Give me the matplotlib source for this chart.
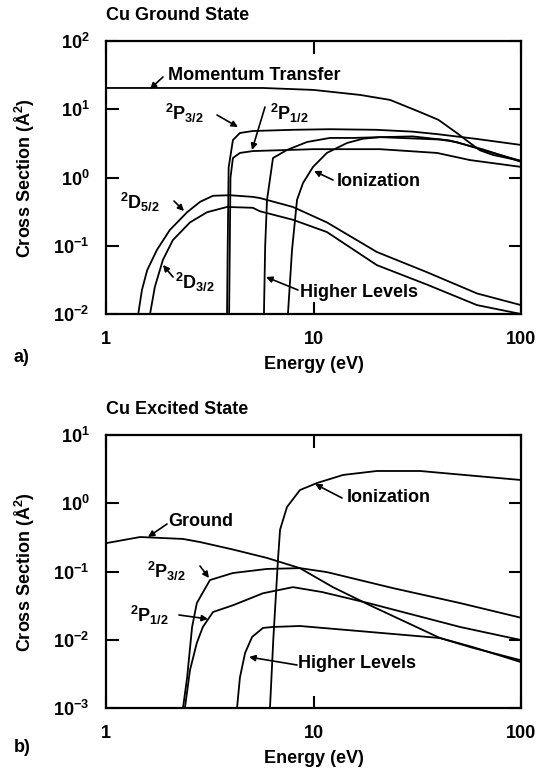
import numpy as np
import matplotlib
matplotlib.use('Agg')
import matplotlib.pyplot as plt
from matplotlib.ticker import FixedLocator, NullLocator

plt.rcParams['font.family'] = ['Liberation Sans', 'DejaVu Sans']
plt.rcParams['font.weight'] = 'bold'
plt.rcParams['mathtext.fontset'] = 'custom'
plt.rcParams['mathtext.rm'] = 'Liberation Sans:bold'
plt.rcParams['mathtext.it'] = 'Liberation Sans:bold'
plt.rcParams['mathtext.bf'] = 'Liberation Sans:bold'

# ---- a) Cu ground state ----
mt_E = [1, 2, 4, 5.7, 10, 16.8, 23.4, 32.6, 40, 49, 56.8, 63.5, 73.3, 100]
mt_s = [20.5, 20.5, 20.5, 20.5, 19.2, 16.2, 13.7, 9.1, 7.0, 4.5, 3.2, 2.5, 2.14, 1.75]

p32_E = [3.83, 3.86, 3.9, 4.09, 4.42, 5.1, 8, 12, 20, 30, 40, 60, 100]
p32_s = [0.01, 0.1, 1.4, 3.54, 4.49, 4.8, 5.0, 5.1, 5.0, 4.7, 4.3, 3.7, 3.0]

p12_E = [3.92, 3.95, 3.98, 4.09, 4.42, 5.1, 10, 20.9, 39.4, 56.8, 100]
p12_s = [0.01, 0.1, 1.0, 1.93, 2.29, 2.44, 2.6, 2.6, 2.29, 1.8, 1.43]

hl_E = [5.77, 5.85, 5.97, 6.38, 7.45, 9.3, 12, 15.5, 20.9, 40.7, 49, 63.5, 100]
hl_s = [0.01, 0.1, 0.47, 1.93, 2.53, 3.31, 3.8, 3.8, 3.9, 3.6, 3.3, 2.6, 1.75]

ion_E = [7.53, 7.88, 8.33, 8.9, 9.95, 11.6, 14.5, 17.3, 20.9, 30, 45, 65, 100]
ion_s = [0.01, 0.087, 0.47, 0.83, 1.43, 2.29, 3.2, 3.7, 3.9, 4.0, 3.5, 2.6, 1.7]

d52_E = [1.43, 1.49, 1.58, 1.76, 2.03, 2.46, 2.84, 3.28, 3.96, 5.1, 5.52, 7.96, 11.6, 20.2, 35.2, 61.4, 100]
d52_s = [0.01, 0.0225, 0.044, 0.087, 0.17, 0.31, 0.44, 0.54, 0.55, 0.52, 0.50, 0.37, 0.22, 0.081, 0.041, 0.020, 0.0135]

d32_E = [1.63, 1.72, 1.88, 2.10, 2.54, 3.07, 3.83, 5.1, 5.52, 7.96, 11.6, 20.2, 35.2, 61.4, 100]
d32_s = [0.01, 0.025, 0.062, 0.121, 0.22, 0.31, 0.37, 0.36, 0.32, 0.24, 0.159, 0.052, 0.027, 0.0135, 0.0100]

# ---- b) Cu excited state ----
gr_E = [1.0, 1.46, 2.35, 2.84, 4.09, 5.97, 8.6, 12.4, 18.7, 40.7, 58.7, 100]
gr_s = [0.26, 0.32, 0.30, 0.27, 0.21, 0.158, 0.112, 0.059, 0.032, 0.0106, 0.0076, 0.005]

ionb_E = [6.17, 6.4, 6.74, 6.9, 7.45, 8.6, 10.4, 13.9, 20.2, 32.6, 61.4, 100]
ionb_s = [0.001, 0.01, 0.147, 0.41, 0.88, 1.56, 1.98, 2.6, 2.97, 2.97, 2.5, 2.19]

p32b_E = [2.35, 2.46, 2.6, 2.74, 3.17, 4.09, 5.97, 8.6, 11.6, 24.2, 50.8, 100]
p32b_s = [0.001, 0.0028, 0.0154, 0.0345, 0.075, 0.095, 0.109, 0.112, 0.098, 0.057, 0.0345, 0.021]

p12b_E = [2.4, 2.54, 2.74, 2.93, 3.28, 4.09, 5.71, 7.96, 11, 18.7, 50.8, 100]
p12b_s = [0.001, 0.0036, 0.009, 0.0154, 0.0255, 0.032, 0.048, 0.059, 0.05, 0.034, 0.0154, 0.0099]

hlb_E = [4.28, 4.42, 4.68, 5.06, 5.71, 6.38, 8.6, 18.7, 40.7, 58.7, 100]
hlb_s = [0.001, 0.0028, 0.0064, 0.011, 0.0149, 0.0154, 0.0159, 0.013, 0.0106, 0.0078, 0.0047]

xticks = [1, 10, 100]
xticklabels = ['1', '10', '100']
yticks_a = [1e-2, 1e-1, 1e0, 1e1, 1e2]
yticklabels_a = ['$10^{-2}$', '$10^{-1}$', '$10^{0}$', '$10^{1}$', '$10^{2}$']
yticks_b = [1e-3, 1e-2, 1e-1, 1e0, 1e1]
yticklabels_b = ['$10^{-3}$', '$10^{-2}$', '$10^{-1}$', '$10^{0}$', '$10^{1}$']

W, H = 538, 770
FS = 13


def fp(x, y):
    # pixel position (from top-left) -> figure fraction
    return (x / W, 1 - y / H)


fig = plt.figure(figsize=(W / 100, H / 100), dpi=100)
ax1 = fig.add_axes([106 / W, 1 - 314 / H, 415 / W, 273 / H])
ax2 = fig.add_axes([106 / W, 1 - 708 / H, 415 / W, 273 / H])


def style(ax, yt, ytl, ylim):
    ax.set_xscale('log')
    ax.set_yscale('log')
    ax.set_xlim(1, 100)
    ax.set_ylim(*ylim)
    ax.xaxis.set_major_locator(FixedLocator(xticks))
    ax.xaxis.set_minor_locator(NullLocator())
    ax.yaxis.set_major_locator(FixedLocator(yt))
    ax.yaxis.set_minor_locator(NullLocator())
    ax.set_xticklabels(xticklabels)
    ax.set_yticklabels(ytl)
    ax.tick_params(direction='in', length=9, width=1.5, top=True, right=True,
                   labelsize=FS)
    ax.tick_params(axis='x', pad=12)
    ax.tick_params(axis='y', pad=12)
    for s in ax.spines.values():
        s.set_linewidth(1.6)


lw = 1.3
ax1.plot(mt_E, mt_s, 'k-', lw=lw)
ax1.plot(p32_E, p32_s, 'k-', lw=lw)
ax1.plot(p12_E, p12_s, 'k-', lw=lw)
ax1.plot(hl_E, hl_s, 'k-', lw=lw)
ax1.plot(ion_E, ion_s, 'k-', lw=lw)
ax1.plot(d52_E, d52_s, 'k-', lw=lw)
ax1.plot(d32_E, d32_s, 'k-', lw=lw)
style(ax1, yticks_a, yticklabels_a, (1e-2, 1e2))

ax2.plot(gr_E, gr_s, 'k-', lw=lw)
ax2.plot(ionb_E, ionb_s, 'k-', lw=lw)
ax2.plot(p32b_E, p32b_s, 'k-', lw=lw)
ax2.plot(p12b_E, p12b_s, 'k-', lw=lw)
ax2.plot(hlb_E, hlb_s, 'k-', lw=lw)
style(ax2, yticks_b, yticklabels_b, (1e-3, 1e1))

for ax in (ax1, ax2):
    ax.set_xlabel('Energy (eV)', fontsize=FS, fontweight='bold', labelpad=6)

fig.text(*fp(25, 178), 'Cross Section (Å$^{2}$)', rotation=90, ha='center', va='center', fontsize=FS)
fig.text(*fp(25, 572), 'Cross Section (Å$^{2}$)', rotation=90, ha='center', va='center', fontsize=FS)

fig.text(*fp(106, 15), 'Cu Ground State', ha='left', va='center', fontsize=FS)
fig.text(*fp(106, 410), 'Cu Excited State', ha='left', va='center', fontsize=FS)
fig.text(*fp(14, 357), 'a)', ha='left', va='center', fontsize=FS)
fig.text(*fp(14, 748), 'b)', ha='left', va='center', fontsize=FS)

arrow = dict(arrowstyle='-|>', color='k', lw=1.2, mutation_scale=9,
             shrinkA=0, shrinkB=0)


def label(ax, txt, pos, tail, tip):
    fig.text(*fp(*pos), txt, ha='left', va='center', fontsize=FS)
    ax.annotate('', xy=fp(*tip), xycoords='figure fraction',
                xytext=fp(*tail), textcoords='figure fraction',
                arrowprops=arrow, annotation_clip=False)


# labels, panel a
label(ax1, 'Momentum Transfer', (168, 75), (163, 77), (150, 89))
label(ax1, '$^{2}\\mathrm{P}_{3/2}$', (165, 113), (217, 115), (238, 127))
label(ax1, '$^{2}\\mathrm{P}_{1/2}$', (270, 113), (265, 107), (252, 150))
label(ax1, 'Ionization', (337, 182), (333, 180), (314, 171))
label(ax1, '$^{2}\\mathrm{D}_{5/2}$', (120, 202), (174, 201), (184, 211))
label(ax1, '$^{2}\\mathrm{D}_{3/2}$', (175, 282), (173, 277), (163, 265))
label(ax1, 'Higher Levels', (300, 293), (298, 290), (266, 277))

# labels, panel b
label(ax2, 'Ground', (168, 522), (167, 524), (148, 537))
label(ax2, '$^{2}\\mathrm{P}_{3/2}$', (147, 571), (200, 566), (209, 578))
label(ax2, '$^{2}\\mathrm{P}_{1/2}$', (130, 615), (179, 615), (208, 619))
label(ax2, 'Ionization', (347, 497), (342, 498), (315, 484))
label(ax2, 'Higher Levels', (298, 664), (297, 665), (249, 657))

fig.savefig('out.png', dpi=100)
